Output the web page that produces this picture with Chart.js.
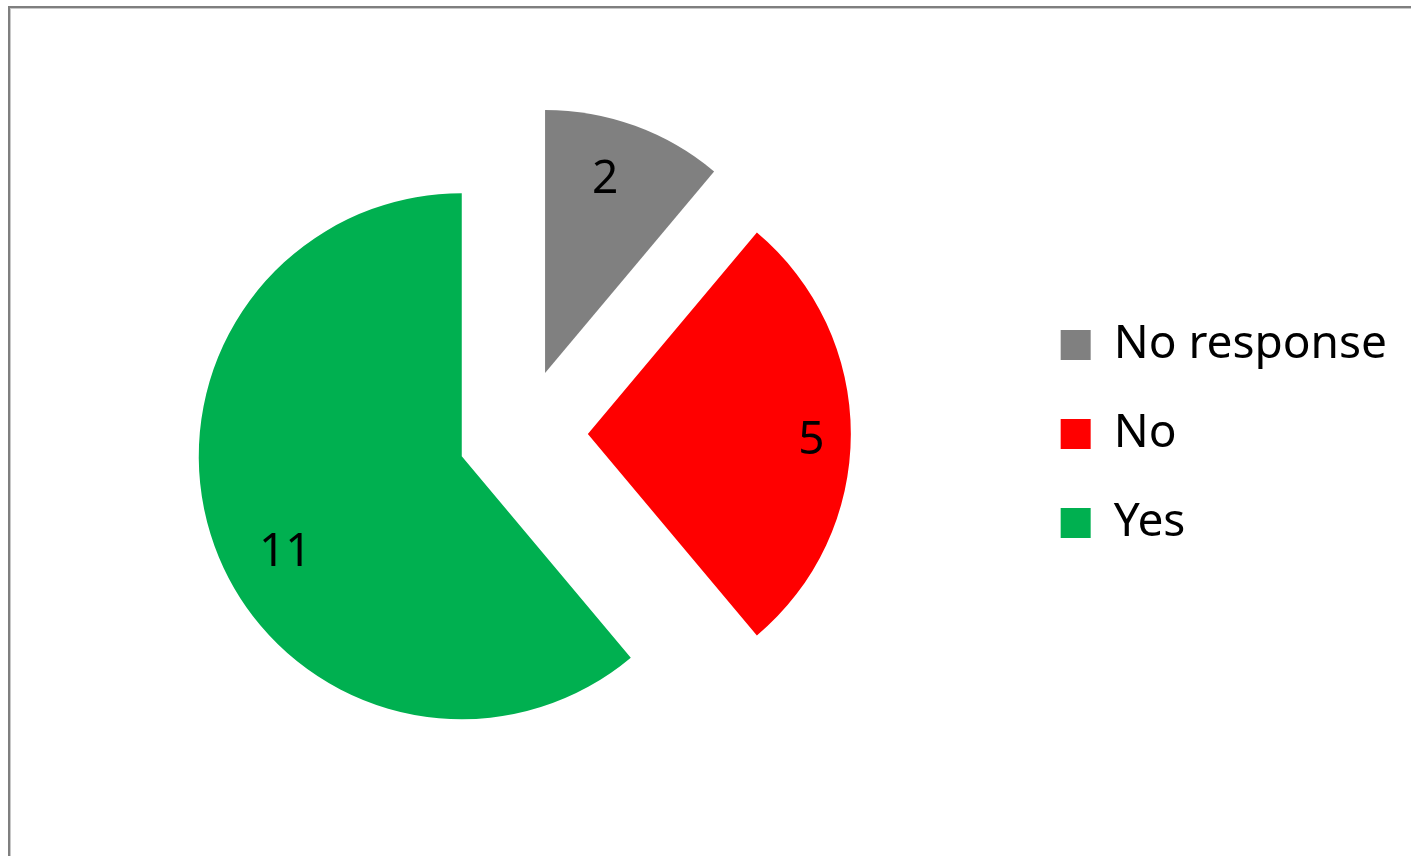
<!DOCTYPE html>
<html lang="en">
   <head>
      <meta charset="UTF-8" />
      <title>Responses</title>
      <script src="https://cdn.jsdelivr.net/npm/chart.js"></script>
      <style>
         body {
            margin: 0;
            overflow: hidden;
            background: #fff;
         }
         .frame {
            position: absolute;
            left: 8px;
            top: 6px;
            width: 2000px;
            height: 2000px;
            border: 2px solid #7f7f7f;
            box-shadow: inset 1px 1px 0 #c8c8c8;
         }
         #pie {
            position: absolute;
            left: 0;
            top: 0;
         }
      </style>
   </head>
   <body>
      <div class="frame"></div>
      <canvas id="pie" width="1411" height="856"></canvas>
      <script>
         const labels = ['No response', 'No', 'Yes'];
         const counts = [2, 5, 11];
         const colors = ['#808080', '#ff0000', '#00b050'];

         const explodeBy = 65; // px each slice is pulled out from the centre
         // where each value label sits: fraction of radius, angle nudge in degrees
         const labelSpots = [
            { r: 0.78, nudge: -3 },
            { r: 0.85, nudge: 1 },
            { r: 0.76, nudge: -8 },
         ];

         const explode = {
            id: 'explode',
            afterDatasetsUpdate(chart) {
               chart.getDatasetMeta(0).data.forEach((arc) => {
                  const mid = (arc.startAngle + arc.endAngle) / 2;
                  arc.x += Math.cos(mid) * explodeBy;
                  arc.y += Math.sin(mid) * explodeBy;
               });
            },
         };

         const valueLabels = {
            id: 'valueLabels',
            afterDatasetsDraw(chart) {
               const ctx = chart.ctx;
               ctx.save();
               ctx.font = '46px "Noto Sans"';
               ctx.fillStyle = '#000';
               ctx.textAlign = 'center';
               ctx.textBaseline = 'middle';
               chart.getDatasetMeta(0).data.forEach((arc, i) => {
                  const spot = labelSpots[i];
                  const a = (arc.startAngle + arc.endAngle) / 2 + (spot.nudge * Math.PI) / 180;
                  const d = arc.outerRadius * spot.r;
                  // +3 so the digits look centred, 'middle' sits a bit high
                  ctx.fillText(String(counts[i]), arc.x + Math.cos(a) * d, arc.y + Math.sin(a) * d + 3);
               });
               ctx.restore();
            },
         };

         new Chart(document.getElementById('pie').getContext('2d'), {
            type: 'pie',
            data: {
               labels: labels,
               datasets: [
                  {
                     data: counts,
                     backgroundColor: colors,
                     borderWidth: 0,
                     hoverOffset: 0,
                  },
               ],
            },
            options: {
               responsive: false,
               animation: false,
               events: [],
               radius: 263,
               layout: {
                  padding: { left: 28, right: 14, top: 12, bottom: 0 },
               },
               plugins: {
                  tooltip: { enabled: false },
                  legend: {
                     position: 'right',
                     align: 'center',
                     labels: {
                        boxWidth: 30,
                        boxHeight: 30,
                        padding: 43,
                        color: '#000',
                        font: { family: 'Noto Sans', size: 46 },
                     },
                  },
               },
            },
            plugins: [explode, valueLabels],
         });
      </script>
   </body>
</html>
